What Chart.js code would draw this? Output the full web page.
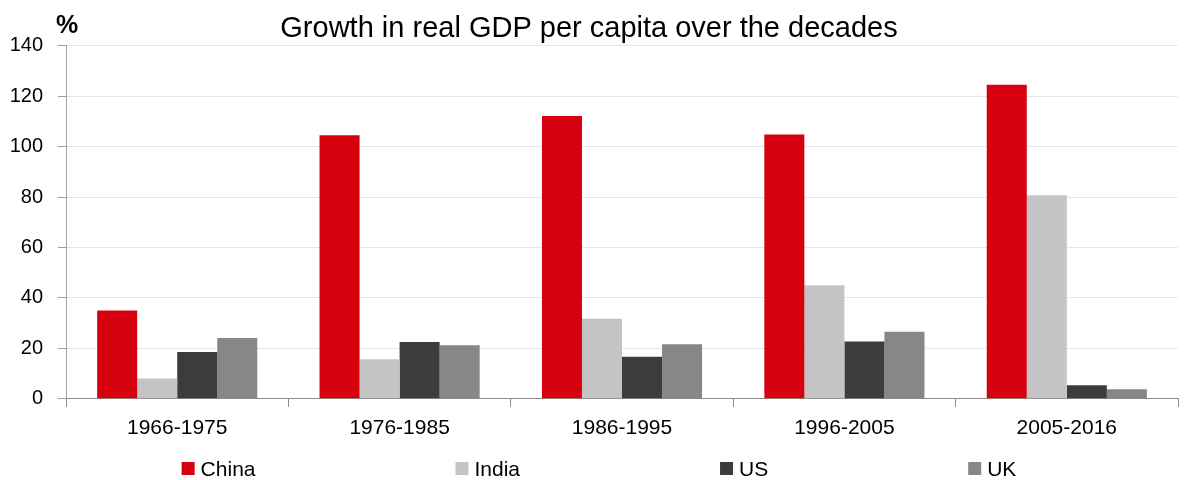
<!DOCTYPE html>
<html>
<head>
<meta charset="utf-8">
<script src="https://cdn.jsdelivr.net/npm/chart.js@4/dist/chart.umd.min.js"></script>
<style>
    html, body { margin: 0; padding: 0; background: #fff; }
    #wrap { width: 1186px; height: 480px; position: relative; }
</style>
</head>
<body>
<div id="wrap"><canvas id="gdpChart"></canvas></div>
<script>
/* global Chart */

const DECADES = ['1966-1975', '1976-1985', '1986-1995', '1996-2005', '2005-2016'];
const CHINA   = [35.0, 104.6, 112.2, 104.9, 124.6];
const INDIA   = [8.1, 15.7, 31.8, 45.0, 80.8];
const US      = [18.6, 22.5, 16.7, 22.7, 5.4];
const UK      = [24.1, 21.2, 21.6, 26.6, 3.8];
const Y_TICKS = [0, 20, 40, 60, 80, 100, 120, 140];

const FONT = "'Liberation Sans', Arial, sans-serif";

const SERIES = [
    { label: 'China', data: CHINA, hex: '#D7000F' },
    { label: 'India', data: INDIA, hex: '#C4C4C4' },
    { label: 'US',    data: US,    hex: '#3C3C3C' },
    { label: 'UK',    data: UK,    hex: '#878787' },
];

// ---------------------------------------------------------------------------
// "%" unit label + Excel-style legend (fixed 200px gap between items)
// ---------------------------------------------------------------------------

const extrasPlugin = {
    id: 'extras',
    afterDraw(chart) {
        const ctx = chart.ctx;
        ctx.save();
        ctx.fillStyle = '#000';
        ctx.font = `bold 25px ${FONT}`;
        ctx.textBaseline = 'alphabetic';
        ctx.textAlign = 'left';
        ctx.fillText('%', 56, 33);

        ctx.font = `21px ${FONT}`;
        ctx.textBaseline = 'middle';
        const box = 13, gapText = 6, gapItem = 200;
        const widths = chart.data.datasets.map(d => box + gapText + ctx.measureText(d.label).width);
        const total = widths.reduce((a, b) => a + b, 0) + gapItem * (widths.length - 1);
        let x = chart.width / 2 + 6 - total / 2;
        const y = 468;
        chart.data.datasets.forEach((d, i) => {
            ctx.fillStyle = d.backgroundColor;
            ctx.fillRect(x, y - 6, box, box);
            ctx.fillStyle = '#000';
            ctx.fillText(d.label, x + box + gapText, y + 2);
            x += widths[i] + gapItem;
        });
        ctx.restore();
    },
};

new Chart(document.getElementById('gdpChart'), {
    type: 'bar',
    data: {
        labels: DECADES,
        datasets: SERIES.map(s => ({
            label:              s.label,
            data:               s.data,
            backgroundColor:    s.hex,
            borderWidth:        0,
            barPercentage:      1,
            categoryPercentage: 0.72,
        })),
    },
    options: {
        responsive:          true,
        maintainAspectRatio: false,
        animation:           false,
        layout: { padding: { left: 0, right: 8, top: 0, bottom: 30 } },
        plugins: {
            legend:  { display: false },
            tooltip: { enabled: false },
            title: {
                display: true,
                text:    'Growth in real GDP per capita over the decades',
                color:   '#000',
                font:    { family: FONT, size: 29, weight: 'normal', lineHeight: 1.1 },
                padding: { top: 13, bottom: 1 },
            },
        },
        scales: {
            x: {
                grid: {
                    display:         true,
                    drawOnChartArea: false,
                    drawTicks:       true,
                    tickLength:      8,
                    color:           '#8c8c8c',
                    offset:          true,
                },
                border: { display: true, color: '#8c8c8c', width: 1 },
                ticks:  { color: '#000', padding: 9, font: { family: FONT, size: 21 } },
            },
            y: {
                min: 0,
                max: 140,
                afterFit(scale) { scale.width = 66; },
                afterBuildTicks(scale) { scale.ticks = Y_TICKS.map(v => ({ value: v })); },
                grid: {
                    color:      '#e6e6e6',
                    tickColor:  '#a0a0a0',
                    tickLength: 8,
                },
                border: { display: true, color: '#a6a6a6', width: 1 },
                ticks:  { color: '#000', padding: 15, font: { family: FONT, size: 20 } },
            },
        },
    },
    plugins: [extrasPlugin],
});
</script>
</body>
</html>
